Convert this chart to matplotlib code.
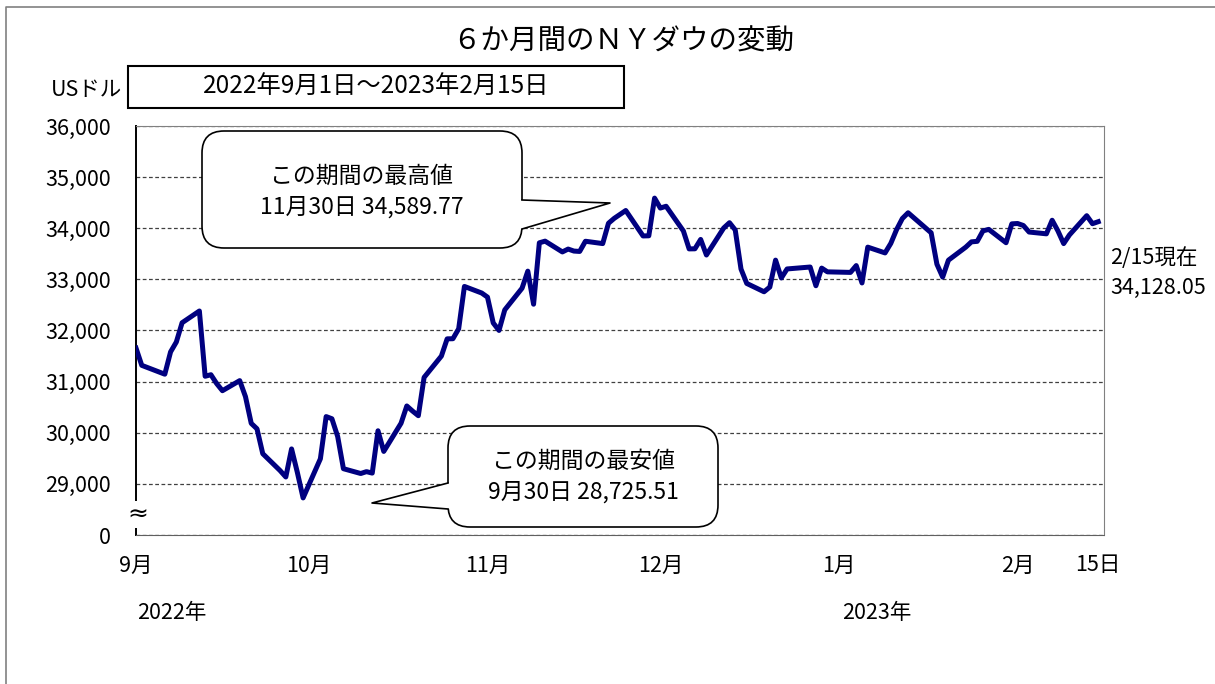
import matplotlib
matplotlib.use('Agg')
import matplotlib.pyplot as plt
from matplotlib.patches import FancyBboxPatch, Polygon, Rectangle
from matplotlib.lines import Line2D
import pandas as pd

plt.rcParams['font.family'] = ['Noto Sans CJK JP', 'DejaVu Sans']

# NY Dow closes, 2022/9/1 - 2023/2/15
dates = [
    '2022-09-01', '2022-09-02', '2022-09-06', '2022-09-07', '2022-09-08', '2022-09-09',
    '2022-09-12', '2022-09-13', '2022-09-14', '2022-09-15', '2022-09-16', '2022-09-19',
    '2022-09-20', '2022-09-21', '2022-09-22', '2022-09-23', '2022-09-26', '2022-09-27',
    '2022-09-28', '2022-09-29', '2022-09-30',
    '2022-10-03', '2022-10-04', '2022-10-05', '2022-10-06', '2022-10-07', '2022-10-10',
    '2022-10-11', '2022-10-12', '2022-10-13', '2022-10-14', '2022-10-17', '2022-10-18',
    '2022-10-19', '2022-10-20', '2022-10-21', '2022-10-24', '2022-10-25', '2022-10-26',
    '2022-10-27', '2022-10-28', '2022-10-31',
    '2022-11-01', '2022-11-02', '2022-11-03', '2022-11-04', '2022-11-07', '2022-11-08',
    '2022-11-09', '2022-11-10', '2022-11-11', '2022-11-14', '2022-11-15', '2022-11-16',
    '2022-11-17', '2022-11-18', '2022-11-21', '2022-11-22', '2022-11-23', '2022-11-25',
    '2022-11-28', '2022-11-29', '2022-11-30',
    '2022-12-01', '2022-12-02', '2022-12-05', '2022-12-06', '2022-12-07', '2022-12-08',
    '2022-12-09', '2022-12-12', '2022-12-13', '2022-12-14', '2022-12-15', '2022-12-16',
    '2022-12-19', '2022-12-20', '2022-12-21', '2022-12-22', '2022-12-23', '2022-12-27',
    '2022-12-28', '2022-12-29', '2022-12-30',
    '2023-01-03', '2023-01-04', '2023-01-05', '2023-01-06', '2023-01-09', '2023-01-10',
    '2023-01-11', '2023-01-12', '2023-01-13', '2023-01-17', '2023-01-18', '2023-01-19',
    '2023-01-20', '2023-01-23', '2023-01-24', '2023-01-25', '2023-01-26', '2023-01-27',
    '2023-01-30', '2023-01-31',
    '2023-02-01', '2023-02-02', '2023-02-03', '2023-02-06', '2023-02-07', '2023-02-08',
    '2023-02-09', '2023-02-10', '2023-02-13', '2023-02-14', '2023-02-15',
]
closes = [
    31656.42, 31318.44, 31145.30, 31581.28, 31774.52, 32151.71,
    32381.34, 31104.97, 31135.09, 30961.82, 30822.42, 31019.68,
    30706.23, 30183.78, 30076.68, 29590.41, 29260.81, 29134.99,
    29683.74, 29225.61, 28725.51,
    29490.89, 30316.32, 30273.87, 29926.94, 29296.79, 29202.88,
    29239.19, 29210.85, 30038.72, 29634.83, 30185.82, 30523.80,
    30423.81, 30333.59, 31082.56, 31499.62, 31836.74, 31839.11,
    32033.28, 32861.80, 32732.95,
    32653.20, 32147.76, 32001.25, 32403.22, 32827.00, 33160.83,
    32513.94, 33715.37, 33747.86, 33536.70, 33592.92, 33553.83,
    33546.32, 33745.69, 33700.28, 34098.10, 34194.06, 34347.03,
    33849.46, 33852.53, 34589.77,
    34395.01, 34429.88, 33947.10, 33596.34, 33597.92, 33781.48,
    33476.46, 34005.04, 34108.64, 33966.35, 33202.22, 32920.46,
    32757.54, 32849.74, 33376.48, 33027.49, 33203.93, 33241.56,
    32875.71, 33220.80, 33147.25,
    33136.37, 33269.77, 32930.08, 33630.61, 33517.65, 33704.10,
    33973.01, 34189.97, 34302.61, 33910.85, 33296.96, 33044.56,
    33375.49, 33629.56, 33733.96, 33743.84, 33949.41, 33978.08,
    33717.09, 34086.04,
    34092.96, 34053.94, 33926.01, 33891.02, 34156.69, 33949.01,
    33699.88, 33869.27, 34245.93, 34089.27, 34128.05,
]

# y axis: the bottom row stands for 0 (axis is broken)
ytick_vals = [28000, 29000, 30000, 31000, 32000, 33000, 34000, 35000, 36000]
ytick_labels = ['0', '29,000', '30,000', '31,000', '32,000', '33,000', '34,000', '35,000', '36,000']
xtick_dates = ['2022-09-01', '2022-10-01', '2022-11-01', '2022-12-01', '2023-01-01', '2023-02-01', '2023-02-15']
xtick_labels = ['9月', '10月', '11月', '12月', '1月', '2月', '15日']

W, H = 1215, 684


def fx(x):
    return x / W


def fy(y):
    return 1 - y / H


def inch(x, y):
    return (x / 100, (H - y) / 100)


fig = plt.figure(figsize=(W / 100, H / 100), dpi=100)
ax = fig.add_axes([fx(136), fy(535), fx(1104) - fx(136), fy(126) - fy(535)])

x = pd.to_datetime(dates)
ax.plot(x, closes, color='#000080', lw=3.6, solid_joinstyle='round', zorder=3)

ax.set_ylim(28000, 36000)
ax.set_yticks(ytick_vals)
ax.set_yticklabels(ytick_labels)
ax.set_xlim(pd.Timestamp('2022-09-01'), pd.Timestamp('2023-02-16'))
ax.set_xticks(pd.to_datetime(xtick_dates))
ax.set_xticklabels(xtick_labels)
ax.tick_params(axis='y', length=0, pad=18, labelsize=15.5)
ax.tick_params(axis='x', length=0, pad=14, labelsize=15.5)

ax.yaxis.grid(True, linestyle=(0, (3, 2)), color='#404040', lw=0.9)
ax.set_axisbelow(True)
ax.spines['left'].set_color('black')
ax.spines['left'].set_linewidth(1.4)
ax.spines['right'].set_color('#808080')
ax.spines['top'].set_color('#808080')
ax.spines['bottom'].set_color('#606060')
ax.spines['bottom'].set_linestyle((0, (3, 1)))

# axis break mark
ax.text(0.002, 28400, '≈', transform=ax.get_yaxis_transform(), ha='center', va='center',
        fontsize=18, family=['DejaVu Sans'],
        bbox=dict(fc='white', ec='none', pad=1), zorder=10, clip_on=False)

# figure frame (left/top)
fig.add_artist(Line2D([fx(6), fx(6), 1], [0, fy(7), fy(7)], color='#808080', lw=1.2))

fig.text(fx(623), fy(42), '６か月間のＮＹダウの変動', ha='center', va='center', fontsize=20.5)
fig.text(fx(122), fy(90), 'USドル', ha='right', va='center', fontsize=15.5)
fig.add_artist(Rectangle(inch(128, 108), 4.96, 0.42, transform=fig.dpi_scale_trans,
                         fc='white', ec='black', lw=1.5))
fig.text(fx(376), fy(87), '2022年9月1日～2023年2月15日', ha='center', va='center', fontsize=17.5)


def bubble(x0, y0, x1, y1, b0, b1, tip, side):
    fig.add_artist(FancyBboxPatch(inch(x0, y1), (x1 - x0) / 100, (y1 - y0) / 100,
                                  boxstyle='round,pad=0,rounding_size=0.22',
                                  transform=fig.dpi_scale_trans, fc='white', ec='black',
                                  lw=1.2, zorder=5))
    bx = x1 if side == 'right' else x0
    d = -4 if side == 'right' else 4
    pts = [inch(bx + d, b0 + 1), inch(bx, b0), inch(*tip), inch(bx, b1), inch(bx + d, b1 - 1)]
    fig.add_artist(Polygon(pts, closed=True, transform=fig.dpi_scale_trans,
                           fc='white', ec='none', zorder=6))
    lx, ly = zip(inch(bx, b0), inch(*tip), inch(bx, b1))
    fig.add_artist(Line2D(lx, ly, transform=fig.dpi_scale_trans, color='black', lw=1.2, zorder=7))


bubble(202, 131, 522, 248, 200, 229, (610, 203), 'right')
fig.text(fx(362), fy(176), 'この期間の最高値', ha='center', va='center', fontsize=16.5, zorder=8)
fig.text(fx(362), fy(207), '11月30日 34,589.77', ha='center', va='center', fontsize=16.5, zorder=8)

bubble(448, 426, 718, 527, 483, 509, (372, 503), 'left')
fig.text(fx(583), fy(461), 'この期間の最安値', ha='center', va='center', fontsize=16.5, zorder=8)
fig.text(fx(583), fy(492), '9月30日 28,725.51', ha='center', va='center', fontsize=16.5, zorder=8)

fig.text(fx(1110), fy(258), '2/15現在', ha='left', va='center', fontsize=15.5)
fig.text(fx(1110), fy(288), '34,128.05', ha='left', va='center', fontsize=15.5)

fig.text(fx(172), fy(613), '2022年', ha='center', va='center', fontsize=15.5)
fig.text(fx(877), fy(613), '2023年', ha='center', va='center', fontsize=15.5)

fig.savefig('out.png', dpi=100, facecolor='white')
